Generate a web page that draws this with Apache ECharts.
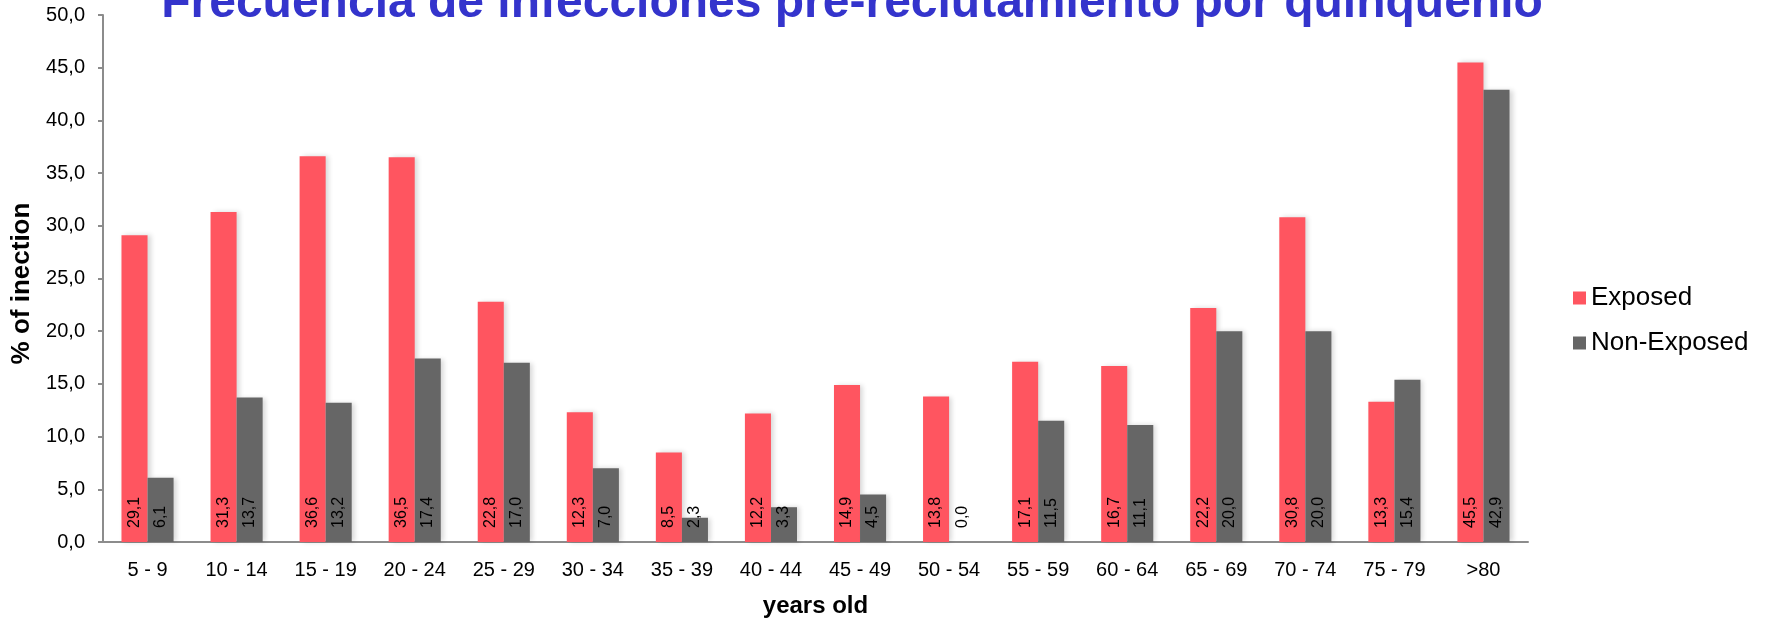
<!DOCTYPE html>
<html>
<head>
<meta charset="utf-8">
<title>Frecuencia de infecciones pre-reclutamiento por quinquenio</title>
<script src="https://cdn.jsdelivr.net/npm/echarts@6/dist/echarts.min.js"></script>
<style>
  html, body { margin: 0; padding: 0; background: #ffffff; }
  #chart { width: 1765px; height: 619px; }
</style>
</head>
<body>
<div id="chart"></div>
<script>
// Age groups (quinquenios)
const categories = ['5 - 9', '10 - 14', '15 - 19', '20 - 24', '25 - 29', '30 - 34', '35 - 39', '40 - 44',
  '45 - 49', '50 - 54', '55 - 59', '60 - 64', '65 - 69', '70 - 74', '75 - 79', '>80'];

// % of infection per age group
const exposed    = [29.1, 31.3, 36.6, 36.5, 22.8, 12.3, 8.5, 12.2, 14.9, 13.8, 17.1, 16.7, 22.2, 30.8, 13.3, 45.5];
const nonExposed = [6.1, 13.7, 13.2, 17.4, 17.0, 7.0, 2.3, 3.3, 4.5, 0.0, 11.5, 11.1, 20.0, 20.0, 15.4, 42.9];

const seriesNames = ['Exposed', 'Non-Exposed'];
const titleText = 'Frecuencia de infecciones pre-reclutamiento por quinquenio';
const yAxisTitle = '% of inection';
const xAxisTitle = 'years old';

const FONT = "'Liberation Sans', Arial, Helvetica, sans-serif";
const fmt = v => Number(v).toFixed(1).replace('.', ',');

const barLabel = {
  show: true,
  position: 'insideBottom',
  distance: 14,
  rotate: 90,
  align: 'left',
  verticalAlign: 'middle',
  color: '#000000',
  fontFamily: FONT,
  fontSize: 16,
  formatter: p => fmt(p.value)
};

const barShadow = {
  shadowBlur: 5,
  shadowColor: 'rgba(0,0,0,0.16)',
  shadowOffsetX: 3,
  shadowOffsetY: 0
};

const chart = echarts.init(document.getElementById('chart'), null, { renderer: 'canvas' });

chart.setOption({
  animation: false,
  backgroundColor: '#ffffff',
  textStyle: { fontFamily: FONT },
  graphic: [{
    type: 'text',
    x: 852,
    y: 4,
    style: {
      text: titleText,
      fill: '#3434CC',
      font: 'bold 48px ' + FONT,
      align: 'center',
      verticalAlign: 'middle'
    }
  }],
  legend: {
    orient: 'vertical',
    left: 1568,
    top: 280,
    itemWidth: 13,
    itemHeight: 13,
    itemGap: 19,
    icon: 'rect',
    data: seriesNames,
    textStyle: {
      fontFamily: FONT,
      fontSize: 26,
      lineHeight: 26,
      color: '#000000'
    }
  },
  grid: {
    left: 103, right: 237, top: 15, bottom: 77,
    containLabel: false,
    outerBoundsMode: 'none'
  },
  xAxis: {
    type: 'category',
    data: categories,
    name: xAxisTitle,
    nameLocation: 'middle',
    nameGap: 52,
    nameTextStyle: { fontFamily: FONT, fontSize: 24, fontWeight: 'bold', color: '#000000' },
    axisLine: { show: true, lineStyle: { color: '#8c8c8c', width: 2 } },
    axisTick: { show: false },
    axisLabel: { fontFamily: FONT, fontSize: 20, color: '#000000', margin: 18, interval: 0 }
  },
  yAxis: {
    type: 'value',
    min: 0,
    max: 50,
    interval: 5,
    name: yAxisTitle,
    nameLocation: 'middle',
    nameGap: 68,
    nameRotate: 90,
    nameTextStyle: {
      fontFamily: FONT, fontSize: 26, fontWeight: 'bold', color: '#000000',
      padding: [0, 10, 0, 0]
    },
    axisLine: { show: true, lineStyle: { color: '#8c8c8c', width: 2 } },
    axisTick: { show: true, length: 5, lineStyle: { color: '#8c8c8c', width: 2 } },
    splitLine: { show: false },
    axisLabel: { fontFamily: FONT, fontSize: 20, color: '#000000', margin: 18, formatter: v => fmt(v) }
  },
  series: [
    {
      name: seriesNames[0],
      type: 'bar',
      data: exposed,
      barGap: 0,
      barCategoryGap: '41.5%',
      itemStyle: Object.assign({ color: '#FF5560' }, barShadow),
      label: barLabel
    },
    {
      name: seriesNames[1],
      type: 'bar',
      data: nonExposed,
      barGap: 0,
      barCategoryGap: '41.5%',
      itemStyle: Object.assign({ color: '#666666' }, barShadow),
      label: barLabel
    }
  ]
});
</script>
</body>
</html>
